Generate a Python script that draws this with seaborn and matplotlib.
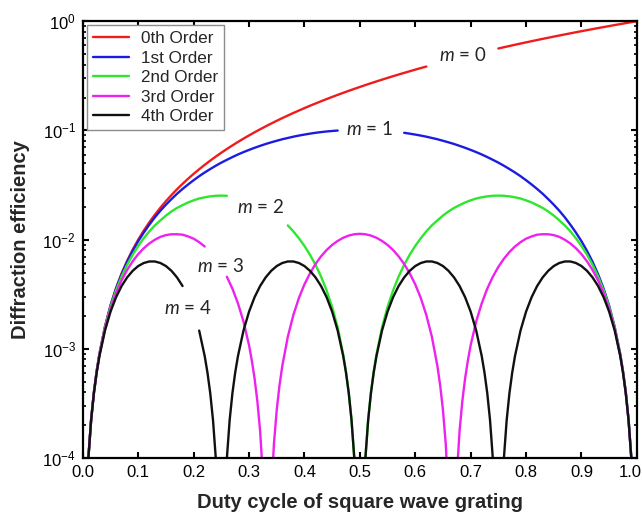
"""
Diffraction efficiency of a square wave grating vs duty cycle (orders 0-4).
"""

import numpy as np
import pandas as pd
import matplotlib
matplotlib.use("Agg")
import matplotlib.pyplot as plt
from matplotlib.ticker import NullLocator, FixedLocator, FormatStrFormatter
from matplotlib.transforms import ScaledTranslation
import seaborn as sns

nan = np.nan

# duty cycle samples (x axis)
duty = np.round(np.arange(1, 101) * 0.01, 2)

# efficiencies; nan where the curve is broken for a label,
# 1e-7 where the curve drops to zero (below the axis)
eff_0th = [
    0.0001, 0.0004, 0.0009, 0.0016, 0.0025, 0.0036, 0.0049, 0.0064, 0.0081, 0.0100,
    0.0121, 0.0144, 0.0169, 0.0196, 0.0225, 0.0256, 0.0289, 0.0324, 0.0361, 0.0400,
    0.0441, 0.0484, 0.0529, 0.0576, 0.0625, 0.0676, 0.0729, 0.0784, 0.0841, 0.0900,
    0.0961, 0.1024, 0.1089, 0.1156, 0.1225, 0.1296, 0.1369, 0.1444, 0.1521, 0.1600,
    0.1681, 0.1764, 0.1849, 0.1936, 0.2025, 0.2116, 0.2209, 0.2304, 0.2401, 0.2500,
    0.2601, 0.2704, 0.2809, 0.2916, 0.3025, 0.3136, 0.3249, 0.3364, 0.3481, 0.3600,
    0.3721, 0.3844, nan, nan, nan, nan, nan, nan, nan, nan,
    nan, nan, nan, nan, 0.5625, 0.5776, 0.5929, 0.6084, 0.6241, 0.6400,
    0.6561, 0.6724, 0.6889, 0.7056, 0.7225, 0.7396, 0.7569, 0.7744, 0.7921, 0.8100,
    0.8281, 0.8464, 0.8649, 0.8836, 0.9025, 0.9216, 0.9409, 0.9604, 0.9801, 1.0000,
]

eff_1st = [
    1.00e-4, 4.00e-4, 8.97e-4, 1.59e-3, 2.48e-3, 3.56e-3, 4.82e-3, 6.27e-3, 7.89e-3, 9.68e-3,
    0.0116, 0.0137, 0.0160, 0.0184, 0.0209, 0.0235, 0.0263, 0.0291, 0.0320, 0.0350,
    0.0381, 0.0412, 0.0443, 0.0475, 0.0507, 0.0538, 0.0570, 0.0602, 0.0633, 0.0663,
    0.0693, 0.0722, 0.0751, 0.0778, 0.0804, 0.0830, 0.0853, 0.0876, 0.0897, 0.0916,
    0.0934, 0.0951, 0.0965, 0.0978, 0.0988, 0.0997, nan, nan, nan, nan,
    nan, nan, nan, nan, nan, nan, nan, 0.0951, 0.0934, 0.0916,
    0.0897, 0.0876, 0.0853, 0.0830, 0.0804, 0.0778, 0.0751, 0.0722, 0.0693, 0.0663,
    0.0633, 0.0602, 0.0570, 0.0538, 0.0507, 0.0475, 0.0443, 0.0412, 0.0381, 0.0350,
    0.0320, 0.0291, 0.0263, 0.0235, 0.0209, 0.0184, 0.0160, 0.0137, 0.0116, 9.68e-3,
    7.89e-3, 6.27e-3, 4.82e-3, 3.56e-3, 2.48e-3, 1.59e-3, 8.97e-4, 4.00e-4, 1.00e-4, 1e-7,
]

eff_2nd = [
    9.99e-5, 3.98e-4, 8.89e-4, 1.57e-3, 2.42e-3, 3.43e-3, 4.59e-3, 5.88e-3, 7.27e-3, 8.75e-3,
    0.0103, 0.0119, 0.0135, 0.0150, 0.0166, 0.0181, 0.0195, 0.0207, 0.0219, 0.0229,
    0.0238, 0.0244, 0.0249, 0.0252, 0.0253, 0.0252, nan, nan, nan, nan,
    nan, nan, nan, nan, nan, nan, 0.0135, 0.0119, 0.0103, 8.75e-3,
    7.27e-3, 5.88e-3, 4.59e-3, 3.43e-3, 2.42e-3, 1.57e-3, 8.89e-4, 3.98e-4, 9.99e-5, 1e-7,
    9.99e-5, 3.98e-4, 8.89e-4, 1.57e-3, 2.42e-3, 3.43e-3, 4.59e-3, 5.88e-3, 7.27e-3, 8.75e-3,
    0.0103, 0.0119, 0.0135, 0.0150, 0.0166, 0.0181, 0.0195, 0.0207, 0.0219, 0.0229,
    0.0238, 0.0244, 0.0249, 0.0252, 0.0253, 0.0252, 0.0249, 0.0244, 0.0238, 0.0229,
    0.0219, 0.0207, 0.0195, 0.0181, 0.0166, 0.0150, 0.0135, 0.0119, 0.0103, 8.75e-3,
    7.27e-3, 5.88e-3, 4.59e-3, 3.43e-3, 2.42e-3, 1.57e-3, 8.89e-4, 3.98e-4, 9.99e-5, 1e-7,
]

eff_3rd = [
    9.97e-5, 3.95e-4, 8.76e-4, 1.53e-3, 2.32e-3, 3.23e-3, 4.23e-3, 5.28e-3, 6.33e-3, 7.37e-3,
    8.34e-3, 9.22e-3, 9.97e-3, 0.0106, 0.0110, 0.0112, 0.0112, 0.0111, 0.0107, 0.0102,
    9.48e-3, 8.65e-3, nan, nan, nan, 4.57e-3, 3.56e-3, 2.61e-3, 1.78e-3, 1.08e-3,
    5.36e-4, 1.77e-4, 1.11e-5, 4.44e-5, 2.76e-4, 6.96e-4, 1.29e-3, 2.04e-3, 2.92e-3, 3.89e-3,
    4.92e-3, 5.98e-3, 7.03e-3, 8.03e-3, 8.94e-3, 9.73e-3, 0.0104, 0.0109, 0.0112, 0.0113,
    0.0112, 0.0109, 0.0104, 9.73e-3, 8.94e-3, 8.03e-3, 7.03e-3, 5.98e-3, 4.92e-3, 3.89e-3,
    2.92e-3, 2.04e-3, 1.29e-3, 6.96e-4, 2.76e-4, 4.44e-5, 1.11e-5, 1.77e-4, 5.36e-4, 1.08e-3,
    1.78e-3, 2.61e-3, 3.56e-3, 4.57e-3, 5.63e-3, 6.68e-3, 7.70e-3, 8.65e-3, 9.48e-3, 0.0102,
    0.0107, 0.0111, 0.0112, 0.0112, 0.0110, 0.0106, 9.97e-3, 9.22e-3, 8.34e-3, 7.37e-3,
    6.33e-3, 5.28e-3, 4.23e-3, 3.23e-3, 2.32e-3, 1.53e-3, 8.76e-4, 3.95e-4, 9.97e-5, 1e-7,
]

eff_4th = [
    9.95e-5, 3.92e-4, 8.58e-4, 1.47e-3, 2.19e-3, 2.97e-3, 3.76e-3, 4.51e-3, 5.18e-3, 5.73e-3,
    6.11e-3, 6.31e-3, 6.31e-3, 6.11e-3, 5.73e-3, 5.18e-3, 4.51e-3, 3.76e-3, nan, nan,
    1.47e-3, 8.58e-4, 3.92e-4, 9.95e-5, 1e-7, 9.95e-5, 3.92e-4, 8.58e-4, 1.47e-3, 2.19e-3,
    2.97e-3, 3.76e-3, 4.51e-3, 5.18e-3, 5.73e-3, 6.11e-3, 6.31e-3, 6.31e-3, 6.11e-3, 5.73e-3,
    5.18e-3, 4.51e-3, 3.76e-3, 2.97e-3, 2.19e-3, 1.47e-3, 8.58e-4, 3.92e-4, 9.95e-5, 1e-7,
    9.95e-5, 3.92e-4, 8.58e-4, 1.47e-3, 2.19e-3, 2.97e-3, 3.76e-3, 4.51e-3, 5.18e-3, 5.73e-3,
    6.11e-3, 6.31e-3, 6.31e-3, 6.11e-3, 5.73e-3, 5.18e-3, 4.51e-3, 3.76e-3, 2.97e-3, 2.19e-3,
    1.47e-3, 8.58e-4, 3.92e-4, 9.95e-5, 1e-7, 9.95e-5, 3.92e-4, 8.58e-4, 1.47e-3, 2.19e-3,
    2.97e-3, 3.76e-3, 4.51e-3, 5.18e-3, 5.73e-3, 6.11e-3, 6.31e-3, 6.31e-3, 6.11e-3, 5.73e-3,
    5.18e-3, 4.51e-3, 3.76e-3, 2.97e-3, 2.19e-3, 1.47e-3, 8.58e-4, 3.92e-4, 9.95e-5, 1e-7,
]

# extra readings near the steep dips, where the curves fall off the axis
fine_duty_0th = [0.005, 0.015, 0.025]
fine_eff_0th = [2.50e-5, 2.25e-4, 6.25e-4]

fine_duty_1st = [0.005, 0.015, 0.025, 0.975, 0.985, 0.995]
fine_eff_1st = [2.50e-5, 2.25e-4, 6.24e-4, 6.24e-4, 2.25e-4, 2.50e-5]

fine_duty_2nd = [0.005, 0.015, 0.025, 0.475, 0.485, 0.495, 0.505, 0.515, 0.525,
                 0.975, 0.985, 0.995]
fine_eff_2nd = [2.50e-5, 2.24e-4, 6.20e-4, 6.20e-4, 2.24e-4, 2.50e-5, 2.50e-5, 2.24e-4, 6.20e-4,
                6.20e-4, 2.24e-4, 2.50e-5]

fine_duty_3rd = [0.005, 0.015, 0.025, 0.305, 0.315, 0.325, 0.335, 0.345, 0.355,
                 0.645, 0.655, 0.665, 0.675, 0.685, 0.695, 0.975, 0.985, 0.995]
fine_eff_3rd = [2.50e-5, 2.24e-4, 6.13e-4, 7.83e-4, 3.33e-4, 6.92e-5, 2.78e-6, 1.36e-4, 4.63e-4,
                4.63e-4, 1.36e-4, 2.78e-6, 6.92e-5, 3.33e-4, 7.83e-4, 6.13e-4, 2.24e-4, 2.50e-5]

fine_duty_4th = [0.005, 0.015, 0.025, 0.225, 0.235, 0.245, 0.255, 0.265, 0.275,
                 0.475, 0.485, 0.495, 0.505, 0.515, 0.525, 0.725, 0.735, 0.745,
                 0.755, 0.765, 0.775, 0.975, 0.985, 0.995]
fine_eff_4th = [2.50e-5, 2.22e-4, 6.05e-4, 6.05e-4, 2.22e-4, 2.50e-5, 2.50e-5, 2.22e-4, 6.05e-4,
                6.05e-4, 2.22e-4, 2.50e-5, 2.50e-5, 2.22e-4, 6.05e-4, 6.05e-4, 2.22e-4, 2.50e-5,
                2.50e-5, 2.22e-4, 6.05e-4, 6.05e-4, 2.22e-4, 2.50e-5]

order_names = ["0th Order", "1st Order", "2nd Order", "3rd Order", "4th Order"]
line_colors = ["#f01c1c", "#1c1ce0", "#2ee62e", "#ee22ee", "#111111"]
x_ticks = [0.0, 0.1, 0.2, 0.3, 0.4, 0.5, 0.6, 0.7, 0.8, 0.9, 1.0]

# in-plot labels "m = n"
label_text = ["$m$ = 0", "$m$ = 1", "$m$ = 2", "$m$ = 3", "$m$ = 4"]
label_x = [0.685, 0.518, 0.321, 0.249, 0.1895]
label_y = [0.488, 0.1026, 0.0200, 0.00578, 0.00236]


def build_frame():
    coarse = [eff_0th, eff_1st, eff_2nd, eff_3rd, eff_4th]
    fine_x = [fine_duty_0th, fine_duty_1st, fine_duty_2nd, fine_duty_3rd, fine_duty_4th]
    fine_y = [fine_eff_0th, fine_eff_1st, fine_eff_2nd, fine_eff_3rd, fine_eff_4th]
    frames = []
    for name, vals, fx, fy in zip(order_names, coarse, fine_x, fine_y):
        df = pd.DataFrame({
            "duty": np.concatenate([duty, fx]),
            "efficiency": np.concatenate([np.asarray(vals, dtype=float), fy]),
        }).sort_values("duty", ignore_index=True)
        # every run of missing readings starts a new line segment
        seg = np.cumsum(df["efficiency"].isna().to_numpy())
        df["order"] = name
        df["segment"] = [f"{name}-{s}" for s in seg]
        frames.append(df.dropna())
    return pd.concat(frames, ignore_index=True)


def main():
    sns.set_style("ticks")
    plt.rcParams["font.family"] = ["Liberation Sans", "DejaVu Sans"]
    plt.rcParams["mathtext.fontset"] = "custom"
    plt.rcParams["mathtext.it"] = "Lato:italic"
    plt.rcParams["mathtext.rm"] = "Lato"
    plt.rcParams["axes.edgecolor"] = "black"
    plt.rcParams["xtick.color"] = "black"
    plt.rcParams["ytick.color"] = "black"

    data = build_frame()

    fig, ax = plt.subplots(figsize=(6.42, 5.17), dpi=100)
    fig.subplots_adjust(left=0.129, right=0.992, bottom=0.114, top=0.959)
    ax.set_yscale("log")

    sns.lineplot(
        data=data, x="duty", y="efficiency", hue="order", hue_order=order_names,
        units="segment", estimator=None, sort=False,
        palette=dict(zip(order_names, line_colors)), linewidth=1.7, ax=ax,
    )

    ax.set_xlim(0, 1)
    ax.set_ylim(1e-4, 1)
    ax.xaxis.set_major_locator(FixedLocator(x_ticks))
    ax.xaxis.set_major_formatter(FormatStrFormatter("%.1f"))
    ax.xaxis.set_minor_locator(NullLocator())

    ax.tick_params(which="both", direction="in", top=True, right=True)
    ax.tick_params(which="major", length=4, width=1.5, labelsize=12, pad=5)
    ax.tick_params(which="minor", length=2.5, width=1.2)
    for sp in ax.spines.values():
        sp.set_linewidth(1.6)

    # the last x label sits on the figure edge; nudge it in a little
    last = ax.get_xticklabels()[-1]
    last.set_transform(last.get_transform()
                       + ScaledTranslation(-0.07, 0, fig.dpi_scale_trans))

    ax.set_xlabel("Duty cycle of square wave grating", fontsize=14.5,
                  fontweight="bold", labelpad=9)
    ax.set_ylabel("Diffraction efficiency", fontsize=14.5,
                  fontweight="bold", labelpad=9)

    for txt, x, y in zip(label_text, label_x, label_y):
        ax.text(x, y, txt, ha="center", va="center", fontsize=13.5,
                family="Lato")

    handles, labels = ax.get_legend_handles_labels()
    leg = ax.legend(handles, labels, loc="upper left", fontsize=12.3,
                    frameon=True, fancybox=False, framealpha=1,
                    edgecolor="#8c8c8c", borderaxespad=0.25, borderpad=0.35,
                    handlelength=2.1, handletextpad=0.7, labelspacing=0.26)
    leg.get_frame().set_linewidth(1.0)

    fig.savefig("out.png", dpi=100)


if __name__ == "__main__":
    main()
